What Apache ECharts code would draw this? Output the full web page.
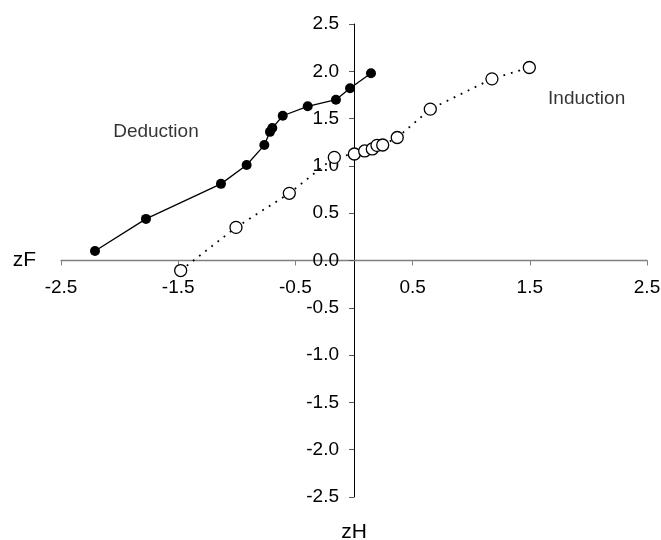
<!DOCTYPE html>
<html>
<head>
<meta charset="utf-8">
<script src="https://cdn.jsdelivr.net/npm/echarts@6/dist/echarts.min.js"></script>
<style>
html,body{margin:0;padding:0;background:#fff;}
#c{width:661px;height:540px;}
</style>
</head>
<body>
<div id="c"></div>
<script>
// Deduction (filled markers, solid line)
var deductionX = [-2.21, -1.775, -1.135, -0.916, -0.765, -0.717, -0.697, -0.608, -0.395, -0.154, -0.034, 0.145];
var deductionY = [0.10, 0.44, 0.81, 1.01, 1.22, 1.36, 1.40, 1.53, 1.63, 1.70, 1.82, 1.98];
// Induction (open markers, dotted line)
var inductionX = [-1.479, -1.007, -0.552, -0.168, 0.003, 0.091, 0.156, 0.196, 0.245, 0.369, 0.651, 1.177, 1.496];
var inductionY = [-0.106, 0.35, 0.71, 1.09, 1.126, 1.158, 1.179, 1.217, 1.221, 1.30, 1.60, 1.92, 2.04];
// Tick labels
var xTicks = [-2.5, -1.5, -0.5, 0.5, 1.5, 2.5];
var yTicks = [-2.5, -2.0, -1.5, -1.0, -0.5, 0.0, 0.5, 1.0, 1.5, 2.0, 2.5];
// Text annotations (data coordinates)
var annotations = [
  {name: 'Deduction', value: [-1.69, 1.365]},
  {name: 'Induction', value: [1.985, 1.71]}
];
var xName = 'zF';
var yName = 'zH';

function pairs(xs, ys) { return xs.map(function (x, i) { return [x, ys[i]]; }); }

var W = 661, H = 540;
var G = {left: 61, right: 14, top: 24, bottom: 43};
var xMin = -2.5, xMax = 2.5, yMin = -2.5, yMax = 2.5;
var gw = W - G.left - G.right, gh = H - G.top - G.bottom;
// move axes so that they cross at zero
var xAxisOffset = -((0 - yMin) / (yMax - yMin)) * gh;
var yAxisOffset = -((0 - xMin) / (xMax - xMin)) * gw;

var FONT = 'Liberation Sans, Arial, sans-serif';
var chart = echarts.init(document.getElementById('c'), null, {renderer: 'canvas'});
chart.setOption({
  animation: false,
  backgroundColor: '#ffffff',
  grid: {left: G.left, right: G.right, top: G.top, bottom: G.bottom, containLabel: false, outerBoundsMode: 'none'},
  xAxis: {
    type: 'value', min: xMin, max: xMax, position: 'bottom', offset: xAxisOffset,
    name: xName, nameLocation: 'start', nameGap: 25,
    nameTextStyle: {fontFamily: FONT, fontSize: 21, color: '#000'},
    axisLine: {onZero: false, lineStyle: {color: '#808080', width: 1.3}},
    axisTick: {show: true, inside: false, length: 5, customValues: xTicks, lineStyle: {color: '#808080'}},
    axisLabel: {customValues: xTicks, margin: 18, fontFamily: FONT, fontSize: 19, color: '#000',
      formatter: function (v) { return Number(v).toFixed(1); }},
    splitLine: {show: false}
  },
  yAxis: {
    type: 'value', min: yMin, max: yMax, interval: 0.5, position: 'left', offset: yAxisOffset,
    name: yName, nameLocation: 'start', nameGap: 25,
    nameTextStyle: {fontFamily: FONT, fontSize: 21, color: '#000'},
    axisLine: {onZero: false, lineStyle: {color: '#000', width: 1}},
    axisTick: {show: true, inside: false, length: 5, lineStyle: {color: '#555'}},
    axisLabel: {margin: 15, fontFamily: FONT, fontSize: 19, color: '#000',
      formatter: function (v) { return Number(v).toFixed(1); }},
    splitLine: {show: false}
  },
  series: [
    {
      name: 'Deduction', type: 'line', data: pairs(deductionX, deductionY),
      symbol: 'circle', symbolSize: 10,
      lineStyle: {color: '#000', width: 1.3, type: 'solid'},
      itemStyle: {color: '#000', borderColor: '#000', borderWidth: 0},
      z: 3
    },
    {
      name: 'Induction', type: 'line', data: pairs(inductionX, inductionY),
      symbol: 'circle', symbolSize: 12,
      lineStyle: {color: '#000', width: 1.8, type: [1.8, 6]},
      itemStyle: {color: '#fff', borderColor: '#000', borderWidth: 1.3},
      z: 3
    },
    {
      name: 'labels', type: 'scatter', data: annotations, symbolSize: 0,
      label: {show: true, position: 'inside', formatter: '{b}', fontFamily: FONT, fontSize: 19, color: '#000'},
      silent: true, z: 4
    }
  ]
});
</script>
</body>
</html>
